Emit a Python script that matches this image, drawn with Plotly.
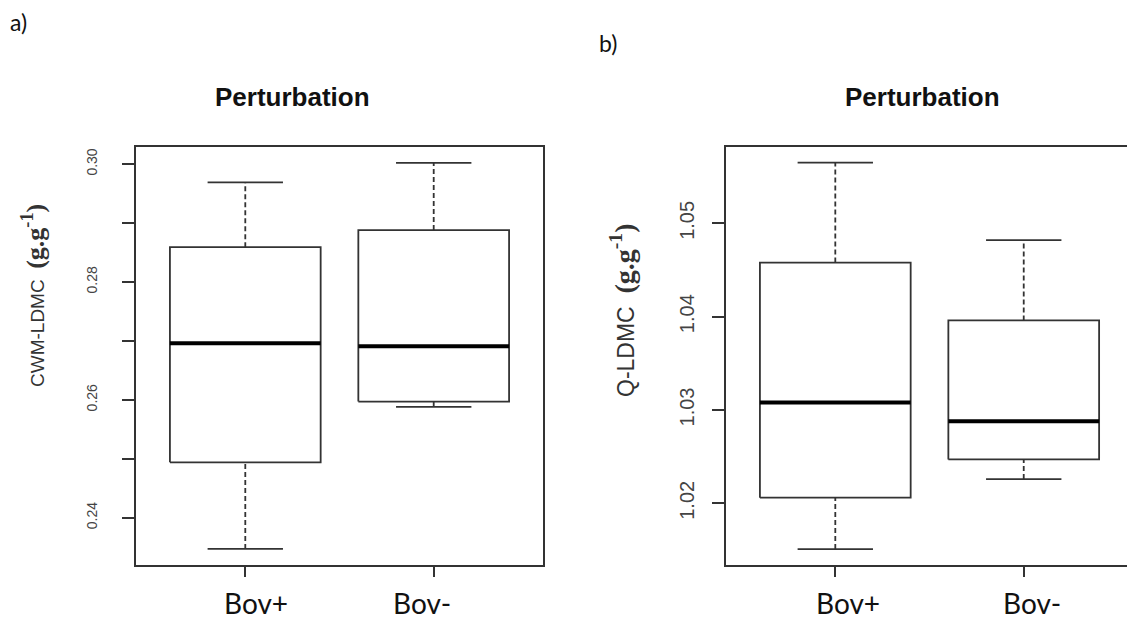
import plotly.graph_objects as go

# ---- data ----
categories = ["Bov+", "Bov-"]

a_low = [0.2347, 0.2588]
a_q1 = [0.2494, 0.2597]
a_med = [0.2696, 0.2691]
a_q3 = [0.2859, 0.2888]
a_high = [0.2969, 0.3002]

b_low = [1.0151, 1.0226]
b_q1 = [1.0206, 1.0247]
b_med = [1.0308, 1.0288]
b_q3 = [1.0458, 1.0396]
b_high = [1.0565, 1.0482]

a_ticks = [0.24, 0.26, 0.28, 0.30]
a_minor = [0.25, 0.27, 0.29]
b_ticks = [1.02, 1.03, 1.04, 1.05]

W, H = 1127, 621
LINE = "#333333"
fig = go.Figure()


def add_boxes(low, q1, med, q3, high, xa, ya):
    for i, cat in enumerate(categories):
        x = i + 1
        hw, sw = 0.4, 0.2
        common = dict(xaxis=xa, yaxis=ya, mode="lines", showlegend=False, hoverinfo="skip")
        fig.add_trace(go.Scatter(x=[x - hw, x + hw, x + hw, x - hw, x - hw],
                                 y=[q1[i], q1[i], q3[i], q3[i], q1[i]],
                                 line=dict(color=LINE, width=1.8), **common))
        fig.add_trace(go.Scatter(x=[x, x], y=[q3[i], high[i]],
                                 line=dict(color=LINE, width=1.8, dash="5px,3px"), **common))
        fig.add_trace(go.Scatter(x=[x, x], y=[low[i], q1[i]],
                                 line=dict(color=LINE, width=1.8, dash="5px,3px"), **common))
        fig.add_trace(go.Scatter(x=[x - sw, x + sw], y=[high[i], high[i]],
                                 line=dict(color=LINE, width=1.8), **common))
        fig.add_trace(go.Scatter(x=[x - sw, x + sw], y=[low[i], low[i]],
                                 line=dict(color=LINE, width=1.8), **common))
        fig.add_trace(go.Scatter(x=[x - hw, x + hw], y=[med[i], med[i]],
                                 line=dict(color="#000000", width=4), **common))


add_boxes(a_low, a_q1, a_med, a_q3, a_high, "x", "y")
add_boxes(b_low, b_q1, b_med, b_q3, b_high, "x2", "y2")

ydom = [1 - 565 / H, 1 - 147 / H]
xa_common = dict(showgrid=False, zeroline=False, showline=True, linecolor=LINE, linewidth=1.6,
                 mirror=True, ticks="outside", ticklen=10, tickwidth=1.6, tickcolor=LINE,
                 tickvals=[1, 2], showticklabels=False)
ya_common = dict(showgrid=False, zeroline=False, showline=True, linecolor=LINE, linewidth=1.6,
                 ticks="outside", ticklen=12, tickwidth=1.6, tickcolor=LINE, tickangle=-90,
                 tickformat=".2f")

fig.update_layout(
    width=W, height=H, autosize=False,
    margin=dict(l=0, r=0, t=0, b=0),
    paper_bgcolor="white", plot_bgcolor="white",
    xaxis=dict(domain=[136 / W, 543 / W], range=[0.42, 2.58], anchor="y", **xa_common),
    yaxis=dict(domain=ydom, range=[0.23198, 0.3029], anchor="x", mirror=True,
               tickvals=a_ticks, ticklabelstandoff=20,
               minor=dict(tickvals=a_minor, ticks="outside", ticklen=12, tickwidth=1.6, tickcolor=LINE,
                          showgrid=False),
               tickfont=dict(family="Liberation Sans, Arial", color="#444444", size=14),
               **ya_common),
    xaxis2=dict(domain=[726 / W, 1.0], range=[0.42, 2.548], anchor="y2", **xa_common),
    yaxis2=dict(domain=ydom, range=[1.01339, 1.05818], anchor="x2", mirror=False,
                tickvals=b_ticks, ticklabelstandoff=10,
                tickfont=dict(family="Liberation Sans, Arial", color="#444444", size=20),
                **ya_common),
)

ann = []
common_a = dict(xref="paper", yref="paper", showarrow=False, xanchor="center", yanchor="middle")
ann.append(dict(text="a)", x=18 / W, y=1 - 22 / H,
                font=dict(family="Lato", size=23, color="#111111"), **common_a))
ann.append(dict(text="b)", x=608 / W, y=1 - 43 / H,
                font=dict(family="Lato", size=23, color="#111111"), **common_a))
for xc in (292, 922):
    ann.append(dict(text="<b>Perturbation</b>", x=xc / W, y=1 - 97 / H,
                    font=dict(family="Liberation Sans, Arial", size=26, color="#111111"), **common_a))
paren = '<span style="font-family:Liberation Serif;font-size:{s}px"><b>(g.g<sup>-1</sup>)</b></span>'
ann.append(dict(text="CWM-LDMC  " + paren.format(s=26), x=33 / W, y=1 - 296 / H, textangle=-90,
                font=dict(family="Liberation Sans, Arial", size=19, color="#333333"), **common_a))
ann.append(dict(text="Q-LDMC  " + paren.format(s=28), x=622 / W, y=1 - 311 / H, textangle=-90,
                font=dict(family="Liberation Sans, Arial", size=23, color="#333333"), **common_a))
shifts = {"x": [11, -12], "x2": [13, 8]}
for xr in ("x", "x2"):
    for i, cat in enumerate(categories):
        ann.append(dict(text=cat, x=i + 1, y=1 - 603 / H, xref=xr, yref="paper",
                        xshift=shifts[xr][i], showarrow=False, xanchor="center", yanchor="middle",
                        font=dict(family="Lato", size=28, color="#111111")))
fig.update_layout(annotations=ann)

fig.write_html("out.html", config={"displayModeBar": False},
               post_script="document.body.style.margin='0px';")
